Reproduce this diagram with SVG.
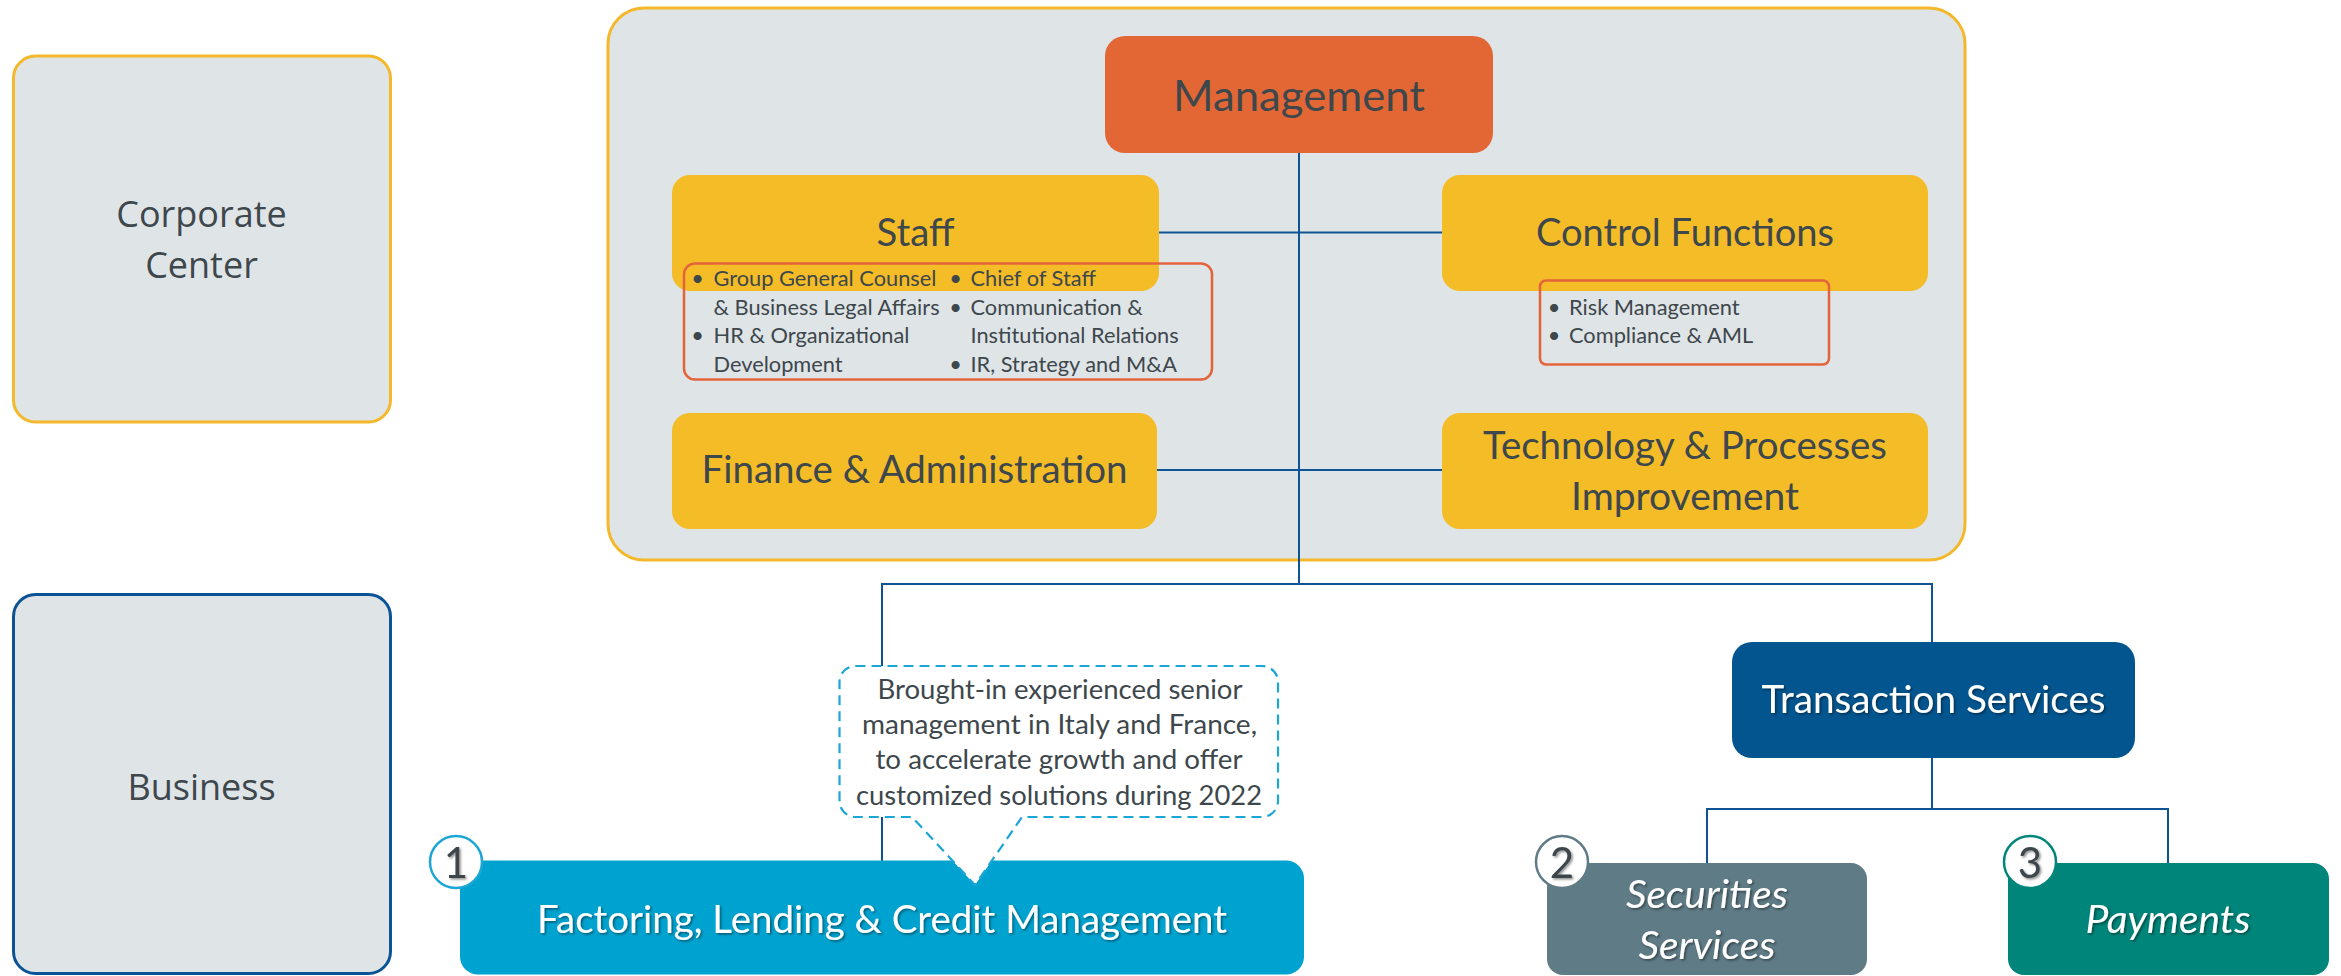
<svg xmlns="http://www.w3.org/2000/svg" width="2341" height="976" viewBox="0 0 2341 976">
  <defs>
    <style>
      .lbl { font-family: Lato, "Open Sans", "Liberation Sans", sans-serif; fill: #3D474C; }
      .side { font-family: "Open Sans", "Liberation Sans", sans-serif; font-size: 36px; fill: #3D474C; text-anchor: middle; }
      .mid { text-anchor: middle; }
      .white { fill: #FFFFFF; filter: url(#txtShadow); }
      .bul { font-size: 21.8px; }
      .call { font-size: 27px; text-anchor: middle; }
      .yellow { fill: #F4BC26; }
      .conn { stroke: #0E5495; stroke-width: 2; fill: none; }
      .redbox { fill: none; stroke: #E3643B; stroke-width: 2.5; }
      .badge { fill: #FFFFFF; stroke-width: 2.5; }
      .digit { font-family: Lato, "Open Sans", "Liberation Sans", sans-serif; font-size: 42px; fill: #3D474C; text-anchor: middle; filter: url(#txtShadow); }
    </style>
    <filter id="txtShadow" x="-10%" y="-20%" width="120%" height="150%">
      <feDropShadow dx="1.5" dy="1.5" stdDeviation="1" flood-color="#000000" flood-opacity="0.45"/>
    </filter>
  </defs>

  <rect width="2341" height="976" fill="#FFFFFF"/>

  <!-- row headers -->
  <g id="corporate-center">
    <rect x="13.5" y="56" width="377" height="366" rx="22" fill="#DFE4E7" stroke="#F5B82A" stroke-width="3"/>
    <text class="side" x="201.5" y="227">Corporate</text>
    <text class="side" x="201.5" y="278">Center</text>
  </g>
  <g id="business">
    <rect x="13.5" y="594.5" width="377" height="379" rx="22" fill="#DFE4E7" stroke="#0B5394" stroke-width="3"/>
    <text class="side" x="201.5" y="800">Business</text>
  </g>

  <!-- corporate center frame -->
  <g id="corporate-frame">
    <rect x="608" y="8" width="1357" height="552" rx="36" fill="#DFE4E7" stroke="#F5B82A" stroke-width="3"/>
  </g>

  <!-- connectors -->
  <g id="connectors">
    <line class="conn" x1="1299" y1="152" x2="1299" y2="584"/>
    <line class="conn" x1="1158" y1="232.5" x2="1442" y2="232.5"/>
    <line class="conn" x1="1156" y1="470" x2="1442" y2="470"/>
    <polyline class="conn" points="882,861 882,584 1932,584 1932,643"/>
    <line class="conn" x1="1932" y1="757" x2="1932" y2="809"/>
    <polyline class="conn" points="1707,864 1707,809 2168,809 2168,864"/>
  </g>

  <g id="management">
    <rect x="1105" y="36" width="388" height="117" rx="20" fill="#E36735"/>
    <text class="lbl mid" x="1299" y="111" font-size="43" textLength="252" lengthAdjust="spacingAndGlyphs">Management</text>
  </g>

  <g id="staff">
    <rect class="yellow" x="672" y="175" width="487" height="116" rx="18"/>
    <text class="lbl mid" x="915.5" y="246" font-size="38.5" textLength="78" lengthAdjust="spacingAndGlyphs">Staff</text>
    <rect class="redbox" x="684" y="263.5" width="528" height="116" rx="11"/>
    <text class="lbl bul" x="697.5" y="286" text-anchor="middle">•</text>
    <text class="lbl bul" x="713.5" y="286">Group General Counsel</text>
    <text class="lbl bul" x="713.5" y="314.5">&amp; Business Legal Affairs</text>
    <text class="lbl bul" x="697.5" y="343" text-anchor="middle">•</text>
    <text class="lbl bul" x="713.5" y="343">HR &amp; Organizational</text>
    <text class="lbl bul" x="713.5" y="371.5">Development</text>
    <text class="lbl bul" x="955.5" y="286" text-anchor="middle">•</text>
    <text class="lbl bul" x="970.5" y="286">Chief of Staff</text>
    <text class="lbl bul" x="955.5" y="314.5" text-anchor="middle">•</text>
    <text class="lbl bul" x="970.5" y="314.5">Communication &amp;</text>
    <text class="lbl bul" x="970.5" y="343">Institutional Relations</text>
    <text class="lbl bul" x="955.5" y="371.5" text-anchor="middle">•</text>
    <text class="lbl bul" x="970.5" y="371.5">IR, Strategy and M&amp;A</text>
  </g>

  <g id="control-functions">
    <rect class="yellow" x="1442" y="175" width="486" height="116" rx="18"/>
    <text class="lbl mid" x="1685" y="246" font-size="38.5" textLength="298" lengthAdjust="spacingAndGlyphs">Control Functions</text>
    <rect class="redbox" x="1540" y="280.5" width="289" height="84" rx="6"/>
    <text class="lbl bul" x="1554" y="315" text-anchor="middle">•</text>
    <text class="lbl bul" x="1569" y="315">Risk Management</text>
    <text class="lbl bul" x="1554" y="342.5" text-anchor="middle">•</text>
    <text class="lbl bul" x="1569" y="342.5">Compliance &amp; AML</text>
  </g>

  <g id="finance-administration">
    <rect class="yellow" x="672" y="413" width="485" height="116" rx="18"/>
    <text class="lbl mid" x="914.5" y="483" font-size="38.5" textLength="426" lengthAdjust="spacingAndGlyphs">Finance &amp; Administration</text>
  </g>

  <g id="technology-processes">
    <rect class="yellow" x="1442" y="413" width="486" height="116" rx="18"/>
    <text class="lbl mid" x="1685" y="459" font-size="38.5" textLength="404" lengthAdjust="spacingAndGlyphs">Technology &amp; Processes</text>
    <text class="lbl mid" x="1685" y="510" font-size="38.5" textLength="228" lengthAdjust="spacingAndGlyphs">Improvement</text>
  </g>

  <g id="transaction-services">
    <rect x="1732" y="642" width="403" height="116" rx="20" fill="#03558F"/>
    <text class="lbl mid white" x="1933.5" y="713" font-size="38.5" textLength="344" lengthAdjust="spacingAndGlyphs">Transaction Services</text>
  </g>

  <g id="factoring">
    <rect x="460" y="860.5" width="844" height="114" rx="18" fill="#00A3D0"/>
    <text class="lbl mid white" x="882" y="933" font-size="38.5" textLength="690" lengthAdjust="spacingAndGlyphs">Factoring, Lending &amp; Credit Management</text>
    <circle class="badge" cx="456" cy="862" r="26" stroke="#1BA6D6"/>
    <text class="digit" x="456" y="878">1</text>
  </g>

  <g id="securities-services">
    <rect x="1547" y="863" width="320" height="112" rx="16" fill="#5F7B86"/>
    <text class="lbl mid white" x="1707" y="908" font-size="39.5" font-style="italic" textLength="162" lengthAdjust="spacingAndGlyphs">Securities</text>
    <text class="lbl mid white" x="1707" y="959" font-size="39.5" font-style="italic" textLength="137" lengthAdjust="spacingAndGlyphs">Services</text>
    <circle class="badge" cx="1562" cy="862" r="26" stroke="#607B87"/>
    <text class="digit" x="1562" y="878">2</text>
  </g>

  <g id="payments">
    <rect x="2008" y="863" width="321" height="112" rx="16" fill="#00857A"/>
    <text class="lbl mid white" x="2168" y="933" font-size="39.5" font-style="italic" textLength="165" lengthAdjust="spacingAndGlyphs">Payments</text>
    <circle class="badge" cx="2030" cy="862" r="26" stroke="#00857A"/>
    <text class="digit" x="2030" y="878">3</text>
  </g>

  <!-- speech bubble pointing at the factoring box -->
  <g id="callout">
    <path d="M855.5,666 H1262 A16,16 0 0 1 1278,682 V801 A16,16 0 0 1 1262,817 H1022 L975,885 L912,817 H855.5 A16,16 0 0 1 839.5,801 V682 A16,16 0 0 1 855.5,666 Z" fill="#FFFFFF" stroke="#1BA6D6" stroke-width="2.2" stroke-dasharray="10 6"/>
    <text class="lbl call" x="1060" y="699" textLength="365" lengthAdjust="spacingAndGlyphs">Brought-in experienced senior</text>
    <text class="lbl call" x="1059.5" y="733.5" textLength="395" lengthAdjust="spacingAndGlyphs">management in Italy and France,</text>
    <text class="lbl call" x="1059" y="769" textLength="367" lengthAdjust="spacingAndGlyphs">to accelerate growth and offer</text>
    <text class="lbl call" x="1059" y="804.5" textLength="406" lengthAdjust="spacingAndGlyphs">customized solutions during 2022</text>
  </g>
</svg>
